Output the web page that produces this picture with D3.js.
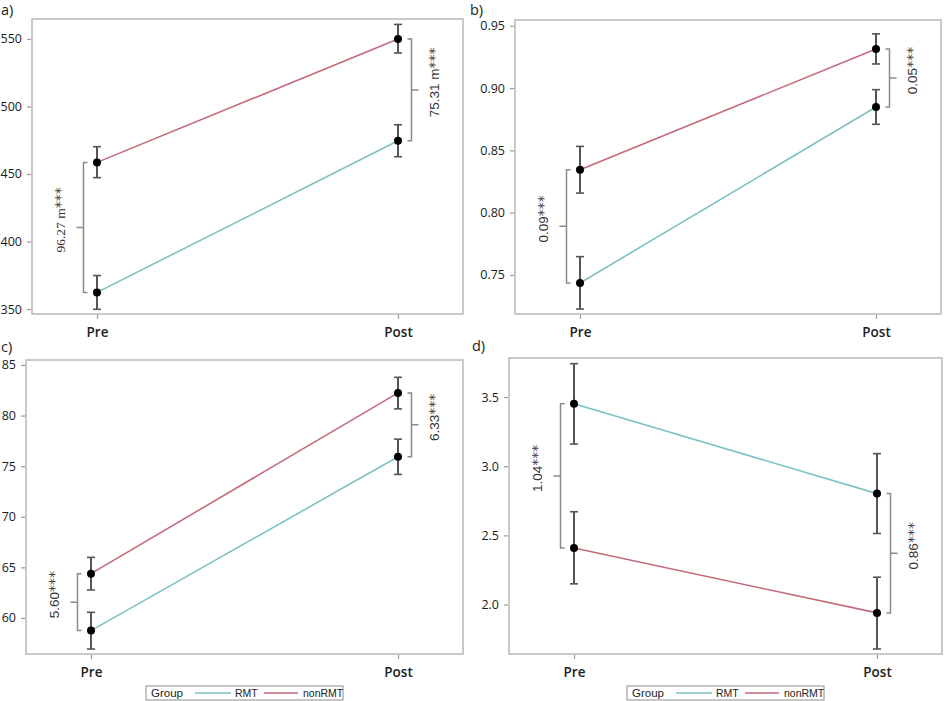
<!DOCTYPE html>
<html>
<head>
<meta charset="utf-8">
<script src="https://cdn.jsdelivr.net/npm/d3@7"></script>
<style>
  html, body { margin: 0; padding: 0; background: #fff; }
  svg { display: block; }
</style>
</head>
<body>
<svg id="chart" width="945" height="701"></svg>
<script>
// ---------------- DATA ----------------
const timepoints = ["Pre", "Post"];
const groups = ["RMT", "nonRMT"];

// Panel a
const rmtMeanA = [362.3, 474.6];
const rmtLowA  = [349.8, 462.8];
const rmtHighA = [374.8, 486.5];
const nonMeanA = [458.6, 550.0];
const nonLowA  = [447.3, 539.6];
const nonHighA = [470.2, 560.8];
const ticksA = [350, 400, 450, 500, 550];
const diffLabelsA = ["96.27 m", "75.31 m"];

// Panel b
const rmtMeanB = [0.7436, 0.8848];
const rmtLowB  = [0.7227, 0.8709];
const rmtHighB = [0.7647, 0.8987];
const nonMeanB = [0.8345, 0.9313];
const nonLowB  = [0.8157, 0.9193];
const nonHighB = [0.8532, 0.9435];
const ticksB = [0.75, 0.80, 0.85, 0.90, 0.95];
const diffLabelsB = ["0.09", "0.05"];

// Panel c
const rmtMeanC = [58.75, 75.93];
const rmtLowC  = [56.93, 74.18];
const rmtHighC = [60.56, 77.67];
const nonMeanC = [64.38, 82.24];
const nonLowC  = [62.77, 80.66];
const nonHighC = [65.99, 83.78];
const ticksC = [60, 65, 70, 75, 80, 85];
const diffLabelsC = ["5.60", "6.33"];

// Panel d
const rmtMeanD = [3.451, 2.802];
const rmtLowD  = [3.160, 2.514];
const rmtHighD = [3.741, 3.091];
const nonMeanD = [2.409, 1.940];
const nonLowD  = [2.150, 1.679];
const nonHighD = [2.671, 2.198];
const ticksD = [2.0, 2.5, 3.0, 3.5];
const diffLabelsD = ["1.04", "0.86"];

const stars = "***";
const panelLetters = ["a)", "b)", "c)", "d)"];

// ---------------- LAYOUT ----------------
const colors = { RMT: "#7cc2c4", nonRMT: "#c46a78" };

const panels = [
  { letter: panelLetters[0], lx: 1, ly: 15, frame: [32, 19, 463, 314], domain: [346.3, 564.8], ticks: ticksA, fmt: d3.format("d"),
    rmt: [rmtMeanA, rmtLowA, rmtHighA], non: [nonMeanA, nonLowA, nonHighA], diffs: diffLabelsA, serifLeft: true, legend: false },
  { letter: panelLetters[1], lx: 470, ly: 15, frame: [515, 20, 941, 314], domain: [0.7187, 0.9546], ticks: ticksB, fmt: d3.format(".2f"),
    rmt: [rmtMeanB, rmtLowB, rmtHighB], non: [nonMeanB, nonLowB, nonHighB], diffs: diffLabelsB, legend: false },
  { letter: panelLetters[2], lx: 1, ly: 352, frame: [26, 360, 463, 654], domain: [56.44, 85.49], ticks: ticksC, fmt: d3.format("d"),
    rmt: [rmtMeanC, rmtLowC, rmtHighC], non: [nonMeanC, nonLowC, nonHighC], diffs: diffLabelsC, legend: true },
  { letter: panelLetters[3], lx: 472, ly: 351, frame: [509, 358, 942, 654], domain: [1.643, 3.782], ticks: ticksD, fmt: d3.format(".1f"),
    rmt: [rmtMeanD, rmtLowD, rmtHighD], non: [nonMeanD, nonLowD, nonHighD], diffs: diffLabelsD, legend: true }
];

const svg = d3.select("#chart");
const tickFont = "'Open Sans', 'Liberation Sans', sans-serif";

panels.forEach(p => {
  const [L, T, R, B] = p.frame;
  const g = svg.append("g");

  const x = d3.scalePoint().domain(timepoints).range([L + 65, R - 65]);
  const y = d3.scaleLinear().domain(p.domain).range([B, T]);

  // panel letter
  g.append("text").attr("x", p.lx).attr("y", p.ly)
    .attr("font-family", tickFont).attr("font-size", 14.5).attr("fill", "#222")
    .text(p.letter);

  // y axis
  const ya = g.append("g").attr("transform", `translate(${L},0)`)
    .call(d3.axisLeft(y).tickValues(p.ticks).tickFormat(p.fmt).tickSize(5).tickPadding(5));
  ya.select(".domain").remove();
  ya.selectAll("line").attr("stroke", "#9a9a9a").attr("stroke-width", 1.2);
  ya.selectAll("text").attr("font-family", tickFont).attr("font-size", 12.5).attr("fill", "#1a1a1a");

  // x axis
  const xa = g.append("g").attr("transform", `translate(0,${B})`)
    .call(d3.axisBottom(x).tickSize(5).tickPadding(8));
  xa.select(".domain").remove();
  xa.selectAll("line").attr("stroke", "#9a9a9a").attr("stroke-width", 1.2);
  xa.selectAll("text").attr("font-family", tickFont).attr("font-size", 13.5)
    .attr("font-weight", 600).attr("fill", "#222");

  // frame
  g.append("rect").attr("x", L).attr("y", T).attr("width", R - L).attr("height", B - T)
    .attr("fill", "none").attr("stroke", "#c4c4c4").attr("stroke-width", 1.8);

  // lines
  const line = d3.line().x((d, i) => x(timepoints[i])).y(d => y(d));
  const series = [
    { name: groups[0], vals: p.rmt },
    { name: groups[1], vals: p.non }
  ];
  series.forEach(s => {
    g.append("path").datum(s.vals[0]).attr("d", line)
      .attr("fill", "none").attr("stroke", colors[s.name]).attr("stroke-width", 1.6);
  });

  // error bars and points
  series.forEach(s => {
    const [mean, lo, hi] = s.vals;
    timepoints.forEach((t, i) => {
      const cx = x(t);
      g.append("line").attr("x1", cx).attr("x2", cx).attr("y1", y(lo[i])).attr("y2", y(hi[i]))
        .attr("stroke", "#555").attr("stroke-width", 2);
      [lo[i], hi[i]].forEach(v => {
        g.append("line").attr("x1", cx - 4).attr("x2", cx + 4).attr("y1", y(v)).attr("y2", y(v))
          .attr("stroke", "#555").attr("stroke-width", 1.6);
      });
      g.append("circle").attr("cx", cx).attr("cy", y(mean[i])).attr("r", 4).attr("fill", "#000");
    });
  });

  // brackets
  [0, 1].forEach(i => {
    const side = i === 0 ? -1 : 1;
    const bx = x(timepoints[i]) + side * 13.5;
    const y1 = y(p.rmt[0][i]), y2 = y(p.non[0][i]);
    const top = Math.min(y1, y2), bot = Math.max(y1, y2);
    const mid = (top + bot) / 2;
    const inward = -side * 4; // ends point toward the points
    const path = `M${bx + inward},${top}H${bx}V${bot}H${bx + inward}M${bx},${mid}H${bx + side * 7}`;
    g.append("path").attr("d", path).attr("fill", "none").attr("stroke", "#8a8a8a").attr("stroke-width", 1.5);

    const lx = bx + side * 23;
    const serif = (p.serifLeft && i === 0);
    const txt = g.append("text")
      .attr("transform", `translate(${lx},${mid + 3}) rotate(-90)`)
      .attr("font-family", serif ? "'Liberation Serif', serif" : "'Liberation Sans', Arial, sans-serif")
      .attr("font-size", 13.5).attr("fill", "#333").attr("dy", "0.35em")
      .attr("text-anchor", "start");
    const main = txt.append("tspan").text(p.diffs[i]);
    txt.append("tspan").attr("font-family", "'DejaVu Sans', sans-serif").attr("font-size", 14)
      .attr("fill", "#444").text(stars);
    const len = main.node().getComputedTextLength();
    txt.attr("x", -len / 2);
  });

  // legend
  if (p.legend) {
    const cxm = (L + R) / 2;
    const lw = 197, lh = 14;
    const lg = g.append("g").attr("transform", `translate(${cxm - lw / 2},${686})`);
    lg.append("rect").attr("width", lw).attr("height", lh).attr("fill", "#fff")
      .attr("stroke", "#a0a0a0").attr("stroke-width", 1.2);
    const lf = "'Liberation Sans', Arial, sans-serif";
    lg.append("text").attr("x", 5).attr("y", 11).attr("font-family", lf).attr("font-size", 11.5).attr("fill", "#222").text("Group");
    const items = [
      { name: groups[0], x0: 49, x1: 85, tx: 89 },
      { name: groups[1], x0: 118, x1: 152, tx: 157 }
    ];
    items.forEach(it => {
      lg.append("line").attr("x1", it.x0).attr("x2", it.x1).attr("y1", 7).attr("y2", 7)
        .attr("stroke", colors[it.name]).attr("stroke-width", 1.6);
      lg.append("text").attr("x", it.tx).attr("y", 11).attr("font-family", lf).attr("font-size", 10.5)
        .attr("fill", "#222").text(it.name);
    });
  }
});
</script>
</body>
</html>
